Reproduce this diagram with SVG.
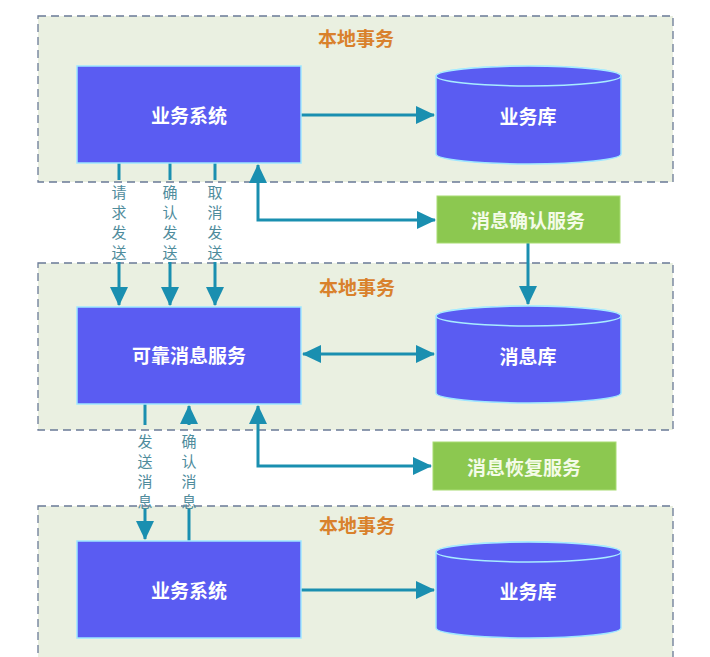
<svg xmlns="http://www.w3.org/2000/svg" width="710" height="657" viewBox="0 0 710 657">
<style>
.ct{fill:#eaf0e1;stroke:#6a7a96;stroke-width:1.3;stroke-dasharray:8 5}
.ttl{font-family:"Noto Sans CJK SC","Noto Sans",sans-serif;font-size:19px;font-weight:bold;fill:#d9812c;text-anchor:middle}
.box{fill:#5a5cf2;stroke:#9ee6ff;stroke-width:1.5}
.grn{fill:#8cc850;stroke:#a8dc72;stroke-width:1}
.wt{font-family:"Noto Sans CJK SC","Noto Sans",sans-serif;font-size:19px;font-weight:bold;fill:#ffffff;text-anchor:middle;dominant-baseline:central}
.gt{font-family:"Noto Sans CJK SC","Noto Sans",sans-serif;font-size:19px;font-weight:bold;fill:#f4fbe8;text-anchor:middle;dominant-baseline:central}
.ln{fill:none;stroke:#1a8fb0;stroke-width:3}
.vl{font-family:"Noto Sans CJK SC","Noto Sans",sans-serif;font-size:15px;fill:#4f8c9c;text-anchor:middle}
</style>
<defs>
<marker id="ah" markerUnits="userSpaceOnUse" markerWidth="20" markerHeight="20" viewBox="0 0 20 20" refX="18" refY="10" orient="auto-start-reverse">
<path d="M0,1 L19,10 L0,19 Z" fill="#1a8fb0"/>
</marker>
</defs>
<rect width="710" height="657" fill="#ffffff"/>
<g id="tx1"><rect class="ct" x="38" y="16" width="635" height="166"/><text class="ttl" x="356" y="46">本地事务</text></g>
<g id="tx2"><rect class="ct" x="38" y="263" width="635" height="167"/><text class="ttl" x="357" y="295">本地事务</text></g>
<g id="tx3"><rect class="ct" x="38" y="506" width="635" height="160"/><text class="ttl" x="357" y="533">本地事务</text></g>

<g id="connectors">
<path class="ln" d="M301,115 H434" marker-end="url(#ah)"/>
<path class="ln" d="M119,163 V180 M119,262 V305" marker-end="url(#ah)"/>
<path class="ln" d="M170,163 V180 M170,262 V305" marker-end="url(#ah)"/>
<path class="ln" d="M215,163 V180 M215,262 V305" marker-end="url(#ah)"/>
<path class="ln" d="M258,165 V220 H435" marker-start="url(#ah)" marker-end="url(#ah)"/>
<path class="ln" d="M528,243 V304" marker-end="url(#ah)"/>
<path class="ln" d="M303,354 H434" marker-start="url(#ah)" marker-end="url(#ah)"/>
<path class="ln" d="M145,404 V425 M145,509 V539" marker-end="url(#ah)"/>
<path class="ln" d="M189,541 V509 M189,425 V406" marker-end="url(#ah)"/>
<path class="ln" d="M258,406 V466 H431" marker-start="url(#ah)" marker-end="url(#ah)"/>
<path class="ln" d="M301,590 H434" marker-end="url(#ah)"/>
<text class="vl"><tspan x="119" y="198">请</tspan><tspan x="119" y="218">求</tspan><tspan x="119" y="238">发</tspan><tspan x="119" y="258">送</tspan></text>
<text class="vl"><tspan x="170" y="198">确</tspan><tspan x="170" y="218">认</tspan><tspan x="170" y="238">发</tspan><tspan x="170" y="258">送</tspan></text>
<text class="vl"><tspan x="215" y="198">取</tspan><tspan x="215" y="218">消</tspan><tspan x="215" y="238">发</tspan><tspan x="215" y="258">送</tspan></text>
<text class="vl"><tspan x="145" y="447">发</tspan><tspan x="145" y="467">送</tspan><tspan x="145" y="487">消</tspan><tspan x="145" y="507">息</tspan></text>
<text class="vl"><tspan x="189" y="447">确</tspan><tspan x="189" y="467">认</tspan><tspan x="189" y="487">消</tspan><tspan x="189" y="507">息</tspan></text>
</g>

<g id="biz1"><rect class="box" x="77" y="66" width="224" height="97"/><text class="wt" x="189" y="114">业务系统</text></g>
<g id="db1"><path class="box" d="M436,76 V154 A92.5,10 0 0 0 621,154 V76 A92.5,10 0 0 0 436,76 Z"/><ellipse cx="528.5" cy="76" rx="92.5" ry="10" fill="#5a5cf2" stroke="#a8ecff" stroke-width="1.5"/><text class="wt" x="528" y="115">业务库</text></g>
<g id="ack"><rect class="grn" x="437" y="196" width="183" height="47"/><text class="gt" x="528" y="219">消息确认服务</text></g>
<g id="rms"><rect class="box" x="77" y="307" width="224" height="97"/><text class="wt" x="189" y="354">可靠消息服务</text></g>
<g id="db2"><path class="box" d="M436,316 V393 A92.5,10 0 0 0 621,393 V316 A92.5,10 0 0 0 436,316 Z"/><ellipse cx="528.5" cy="316" rx="92.5" ry="10" fill="#5a5cf2" stroke="#a8ecff" stroke-width="1.5"/><text class="wt" x="528" y="355">消息库</text></g>
<g id="rec"><rect class="grn" x="433" y="442" width="183" height="48"/><text class="gt" x="524" y="466">消息恢复服务</text></g>
<g id="biz2"><rect class="box" x="77" y="541" width="224" height="97"/><text class="wt" x="189" y="589">业务系统</text></g>
<g id="db3"><path class="box" d="M436,552 V628 A92.5,10 0 0 0 621,628 V552 A92.5,10 0 0 0 436,552 Z"/><ellipse cx="528.5" cy="552" rx="92.5" ry="10" fill="#5a5cf2" stroke="#a8ecff" stroke-width="1.5"/><text class="wt" x="528" y="590">业务库</text></g>
</svg>
